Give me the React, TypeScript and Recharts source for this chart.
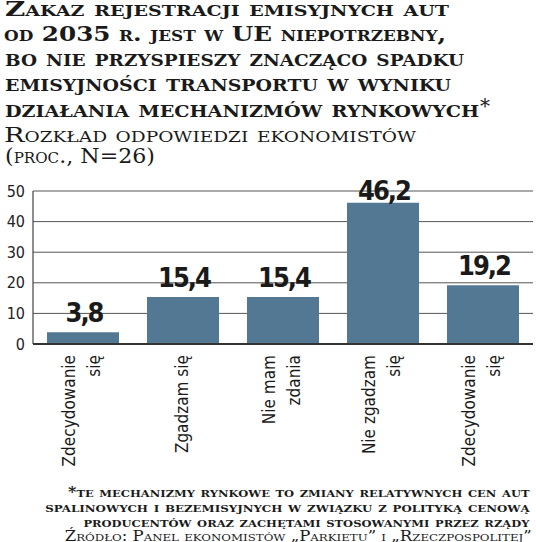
import React from "react";
import { BarChart, Bar, XAxis, YAxis, CartesianGrid, LabelList } from "recharts";

const categoryLines: string[][] = [
  ["Zdecydowanie", "się"],
  ["Zgadzam się"],
  ["Nie mam", "zdania"],
  ["Nie zgadzam", "się"],
  ["Zdecydowanie", "się"],
];
const shares = [3.8, 15.4, 15.4, 46.2, 19.2];
const yTicks = [0, 10, 20, 30, 40, 50];

const titleLines = [
  "Zakaz rejestracji emisyjnych aut",
  "od 2035 r. jest w UE niepotrzebny,",
  "bo nie przyspieszy znacząco spadku",
  "emisyjności transportu w wyniku",
  "działania mechanizmów rynkowych",
];
const subtitleLines = ["Rozkład odpowiedzi ekonomistów", "(proc., N=26)"];
const footnoteLines = [
  "*te mechanizmy rynkowe to zmiany relatywnych cen aut",
  "spalinowych i bezemisyjnych w związku z polityką cenową",
  "producentów oraz zachętami stosowanymi przez rządy",
];
const sourceLine = "Źródło: Panel ekonomistów „Parkietu” i „Rzeczpospolitej”";

const data = shares.map((v, i) => ({ key: `c${i}`, value: v }));

const MARGIN = { top: 191, right: 3, bottom: 48, left: 0 };
const BAR_COLOR = "#537893";
const SANS = "'DejaVu Sans Condensed', 'DejaVu Sans', sans-serif";
const SERIF = "'DejaVu Serif', serif";

// header / footer text placement: [x, baseline, fontSize, length]
const titleLayout = [
  [5, 16, 20.5, 444],
  [4, 40.7, 20.5, 442],
  [5, 65.7, 24, 459],
  [5, 90.7, 24, 446],
  [5, 116.7, 24, 474],
];
const subtitleLayout = [
  [4, 141.7, 20.5, 412],
  [5, 163.3, 20.5, 150],
];
const footLayout = [
  [68, 496.7, 14, 461.5],
  [45.3, 511.7, 14, 484.5],
  [83.4, 526.7, 14, 446],
  [64.7, 540.5, 14, 467],
];

const fmt = (v: number) => v.toFixed(1).replace(".", ",");

function XTick(props: any) {
  const { x, y, payload } = props;
  const lines = categoryLines[payload.index] || [];
  const n = lines.length;
  return (
    <g transform={`translate(${x},${y + 3})`}>
      <text
        transform="rotate(-90)"
        textAnchor="end"
        fontFamily={SANS}
        fontSize={17}
        fill="#1a1a1a"
        style={{ fontStretch: "condensed" }}
      >
        {lines.map((l, i) => (
          <tspan key={i} x={0} y={4.5 + (i - (n - 1) / 2) * 25}>
            {l}
          </tspan>
        ))}
      </text>
    </g>
  );
}

function ValueLabel(props: any) {
  const { x, y, width, value } = props;
  const base = Math.max(y - 10, MARGIN.top + 8.5);
  return (
    <text
      x={x + width / 2 + 1}
      y={base}
      textAnchor="middle"
      fontFamily={SANS}
      fontWeight="bold"
      fontSize={27}
      letterSpacing={-2}
      fill="#1a1a1a"
      style={{ fontStretch: "condensed" }}
    >
      {fmt(value)}
    </text>
  );
}

export default function App() {
  return (
    <div style={{ position: "absolute", left: 0, top: 0, width: 536, height: 542, background: "#fff" }}>
      <BarChart width={536} height={542} data={data} margin={MARGIN} barCategoryGap={14}>
        <CartesianGrid vertical={false} stroke="#555" strokeWidth={1} />
        <XAxis
          dataKey="key"
          height={150}
          tickLine={false}
          axisLine={{ stroke: "#333", strokeWidth: 1.8 }}
          tick={<XTick />}
          interval={0}
        />
        <YAxis
          width={33}
          domain={[0, 50]}
          ticks={yTicks}
          tickLine={false}
          axisLine={{ stroke: "#444", strokeWidth: 1.2 }}
          tick={{ fill: "#222", fontSize: 16, fontFamily: SANS, style: { fontStretch: "condensed" } }}
        />
        <Bar dataKey="value" fill={BAR_COLOR} isAnimationActive={false}>
          <LabelList dataKey="value" content={<ValueLabel />} />
        </Bar>
      </BarChart>
      <svg
        width={536}
        height={542}
        style={{ position: "absolute", left: 0, top: 0, pointerEvents: "none" }}
      >
        {titleLines.map((t, i) => {
          const [x, y, fs, len] = titleLayout[i];
          return (
            <text
              key={`t${i}`}
              x={x}
              y={y}
              fontSize={fs}
              fontFamily={SERIF}
              fontWeight="bold"
              fill="#1a1a1a"
              textLength={len}
              lengthAdjust="spacingAndGlyphs"
              style={{ fontVariant: "small-caps" }}
            >
              {t}
            </text>
          );
        })}
        <text
          x={titleLayout[4][0] + titleLayout[4][3] + 1}
          y={titleLayout[4][1] - 4}
          fontSize={20}
          fontFamily={SERIF}
          fill="#1a1a1a"
        >
          *
        </text>
        {subtitleLines.map((t, i) => {
          const [x, y, fs, len] = subtitleLayout[i];
          return (
            <text
              key={`s${i}`}
              x={x}
              y={y}
              fontSize={fs}
              fontFamily={SERIF}
              fill="#1a1a1a"
              textLength={len}
              lengthAdjust="spacingAndGlyphs"
              style={{ fontVariant: "small-caps" }}
            >
              {t}
            </text>
          );
        })}
        {[...footnoteLines, sourceLine].map((t, i) => {
          const [x, y, fs, len] = footLayout[i];
          return (
            <text
              key={`f${i}`}
              x={x}
              y={y}
              fontSize={fs}
              fontFamily={SERIF}
              fontWeight={i < footnoteLines.length ? "bold" : "normal"}
              fill="#1a1a1a"
              textLength={len}
              lengthAdjust="spacingAndGlyphs"
              style={{ fontVariant: "small-caps" }}
            >
              {t}
            </text>
          );
        })}
      </svg>
    </div>
  );
}
